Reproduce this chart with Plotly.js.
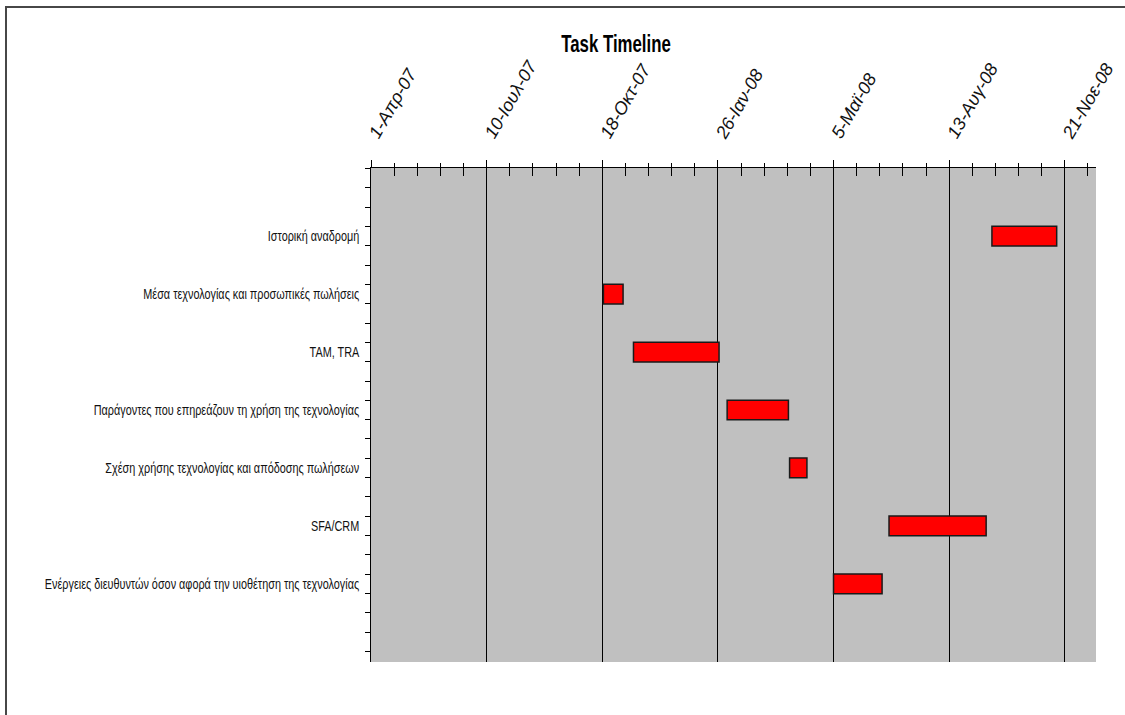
<!DOCTYPE html>
<html>
<head>
<meta charset="utf-8">
<script src="https://cdn.plot.ly/plotly-3.0.1.min.js"></script>
<style>
  html, body { margin: 0; padding: 0; background: #fff; }
  #wrap { position: relative; width: 1125px; height: 715px; overflow: hidden; }
  #chart { position: absolute; left: 0; top: 0; width: 1125px; height: 715px; }
  #frame { position: absolute; left: 5px; top: 6px; width: 1130px; height: 720px;
           border-left: 2px solid #474747; border-top: 2px solid #474747; pointer-events: none; }
</style>
</head>
<body>
<div id="wrap">
  <div id="chart"></div>
  <div id="frame"></div>
</div>
<script>
// ---- data ----
const tasks = [
  'Ιστορική αναδρομή',
  'Μέσα τεχνολογίας και προσωπικές πωλήσεις',
  'TAM, TRA',
  'Παράγοντες που επηρεάζουν τη χρήση της τεχνολογίας',
  'Σχέση χρήσης τεχνολογίας και απόδοσης πωλήσεων',
  'SFA/CRM',
  'Ενέργειες διευθυντών όσον αφορά την υιοθέτηση της τεχνολογίας'
];
const taskPos = [1, 2, 3, 4, 5, 6, 7];
const startDates = ['2008-09-19','2007-10-19','2007-11-14','2008-02-03','2008-03-28','2008-06-22','2008-05-05'];
const endDates   = ['2008-11-14','2007-11-05','2008-01-27','2008-03-27','2008-04-12','2008-09-14','2008-06-16'];
const tickDates  = ['2007-04-01','2007-07-10','2007-10-18','2008-01-26','2008-05-05','2008-08-13','2008-11-21'];
const tickLabels = ['1-Απρ-07','10-Ιουλ-07','18-Οκτ-07','26-Ιαν-08','5-Μαϊ-08','13-Αυγ-08','21-Νοε-08'];
const xRange = ['2007-04-01', '2008-12-18'];

const DAY = 86400000;
const durations = startDates.map((s, i) => Date.parse(endDates[i]) - Date.parse(s));

const sans = '"Liberation Sans", Arial, sans-serif';

const traces = [
  {
    type: 'bar',
    orientation: 'h',
    y: taskPos,
    base: startDates,
    x: durations,
    width: 0.34,
    marker: { color: '#ff0000', line: { color: '#1a1a1a', width: 1.5 } },
    hoverinfo: 'skip',
    showlegend: false
  },
  {
    type: 'scatter',
    mode: 'markers',
    x: startDates,
    y: taskPos,
    xaxis: 'x2',
    yaxis: 'y',
    marker: { opacity: 0, size: 1 },
    hoverinfo: 'skip',
    showlegend: false
  }
];

const layout = {
  width: 1125,
  height: 715,
  paper_bgcolor: '#ffffff',
  plot_bgcolor: '#c0c0c0',
  margin: { l: 371, r: 29, t: 168, b: 53, pad: 0 },
  title: {
    text: 'Task Timeline',
    x: 616 / 1125, xref: 'container', xanchor: 'center',
    y: 1 - 44 / 715, yref: 'container', yanchor: 'middle',
    font: { family: sans, size: 24, weight: 'bold', color: '#000' }
  },
  bargap: 0,
  xaxis: {
    type: 'date',
    side: 'top',
    range: xRange,
    autorange: false,
    tickmode: 'array',
    tickvals: tickDates,
    ticktext: tickLabels,
    tickangle: -60,
    tickfont: { family: sans, size: 18, style: 'italic', color: '#111' },
    ticks: 'outside',
    ticklen: 7,
    tickcolor: '#000',
    tickwidth: 1,
    ticklabelstandoff: 8,
    showgrid: true,
    gridcolor: '#000',
    gridwidth: 1,
    showline: true,
    linecolor: '#000',
    linewidth: 1.5,
    zeroline: false,
    minor: {
      tickmode: 'linear',
      tick0: '2007-04-01',
      dtick: 20 * DAY,
      ticks: 'outside',
      ticklen: 4,
      tickcolor: '#000',
      tickwidth: 1,
      showgrid: false
    }
  },
  xaxis2: {
    type: 'date',
    overlaying: 'x',
    side: 'top',
    anchor: 'y',
    range: xRange,
    autorange: false,
    tickmode: 'linear',
    tick0: '2007-04-01',
    dtick: 20 * DAY,
    ticks: 'inside',
    ticklen: 8,
    tickcolor: '#000',
    tickwidth: 1,
    showticklabels: false,
    showgrid: false,
    showline: false,
    zeroline: false
  },
  yaxis: {
    range: [8.349, -0.176],
    autorange: false,
    tickmode: 'array',
    tickvals: taskPos,
    ticktext: tasks,
    ticks: '',
    ticklabelstandoff: 8,
    tickfont: { family: sans, size: 14, color: '#111' },
    showgrid: false,
    showline: true,
    linecolor: '#000',
    linewidth: 1,
    zeroline: false,
    minor: {
      tickmode: 'linear',
      tick0: 1 / 6,
      dtick: 1 / 3,
      ticks: 'outside',
      ticklen: 5,
      tickcolor: '#000',
      tickwidth: 1,
      showgrid: false
    }
  }
};

// condense text horizontally (the original uses a narrow face)
function squeeze(selector, factor) {
  document.querySelectorAll(selector).forEach(function (t) {
    const w = t.getComputedTextLength();
    if (w > 0) {
      t.setAttribute('textLength', (w * factor).toFixed(1));
      t.setAttribute('lengthAdjust', 'spacingAndGlyphs');
    }
  });
}

Plotly.newPlot('chart', traces, layout, { displayModeBar: false, staticPlot: true }).then(function () {
  squeeze('.yaxislayer-above .ytick text', 0.775);
  squeeze('.gtitle', 0.7);
});
</script>
</body>
</html>
